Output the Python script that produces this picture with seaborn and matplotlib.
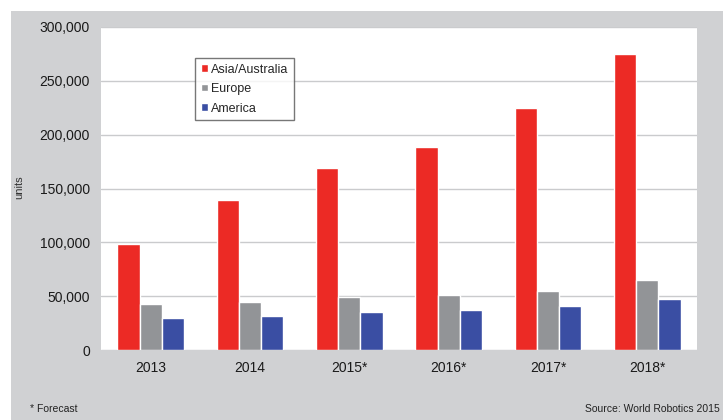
import matplotlib
matplotlib.use("Agg")
import matplotlib.pyplot as plt
import seaborn as sns
import pandas as pd
from matplotlib.patches import Rectangle
from matplotlib.ticker import FuncFormatter

years = ["2013", "2014", "2015*", "2016*", "2017*", "2018*"]
asia = [98000, 139000, 169000, 189000, 225000, 275000]
europe = [43000, 45000, 49000, 51000, 55000, 65000]
america = [30000, 32000, 35500, 37500, 40500, 47500]
series = ["Asia/Australia", "Europe", "America"]
colors = ["#ec2a25", "#929497", "#3a4ea3"]

rows = []
for name, vals in zip(series, [asia, europe, america]):
    for y, v in zip(years, vals):
        rows.append({"year": y, "series": name, "units": v})
df = pd.DataFrame(rows)

sns.set_theme(style="white")
plt.rcParams["font.family"] = ["Liberation Sans", "DejaVu Sans"]

fig = plt.figure(figsize=(7.23, 4.2), dpi=100)
fig.patch.set_facecolor("white")
fig.patches.append(Rectangle((11 / 723, 0), 1, 1 - 11 / 420, transform=fig.transFigure,
                             facecolor="#d0d1d3", edgecolor="none", zorder=-10))

ax = fig.add_axes([101 / 723, 1 - 350 / 420, 596 / 723, 323 / 420])
ax.set_facecolor("white")

sns.barplot(data=df, x="year", y="units", hue="series", hue_order=series,
            palette=colors, width=0.67, gap=0, saturation=1, ax=ax,
            errorbar=None, zorder=3)

ax.set_ylim(0, 300000)
ax.set_yticks(range(0, 300001, 50000))
ax.yaxis.set_major_formatter(FuncFormatter(lambda v, p: f"{int(v):,}"))
ax.grid(axis="y", color="#cacbcd", linewidth=1.0, zorder=0)
ax.set_axisbelow(True)
for s in ax.spines.values():
    s.set_visible(False)
ax.tick_params(axis="both", length=0, labelsize=10, colors="#1a1a1a")
ax.tick_params(axis="y", pad=8)
ax.tick_params(axis="x", pad=8)
ax.set_xlabel("")
ax.set_ylabel("")
fig.text(19 / 723, 1 - 187 / 420, "units", rotation=90, ha="center", va="center",
         fontsize=8, color="#333333")

leg = ax.legend(loc="upper left", bbox_to_anchor=(0.158, 0.904), borderaxespad=0,
                fontsize=9, frameon=True, fancybox=False, handlelength=0.55,
                handleheight=0.55, handletextpad=0.25, labelspacing=0.6,
                borderpad=0.45)
leg.get_frame().set_edgecolor("#555555")
leg.get_frame().set_linewidth(1.0)
leg.set_title(None)

fig.text(30 / 723, 1 - 409 / 420, "* Forecast", fontsize=7.5, color="#222222",
         ha="left", va="center")
fig.text(720 / 723, 1 - 409 / 420, "Source: World Robotics 2015", fontsize=7.5,
         color="#222222", ha="right", va="center")

fig.savefig("out.png", dpi=100, facecolor=fig.get_facecolor())
